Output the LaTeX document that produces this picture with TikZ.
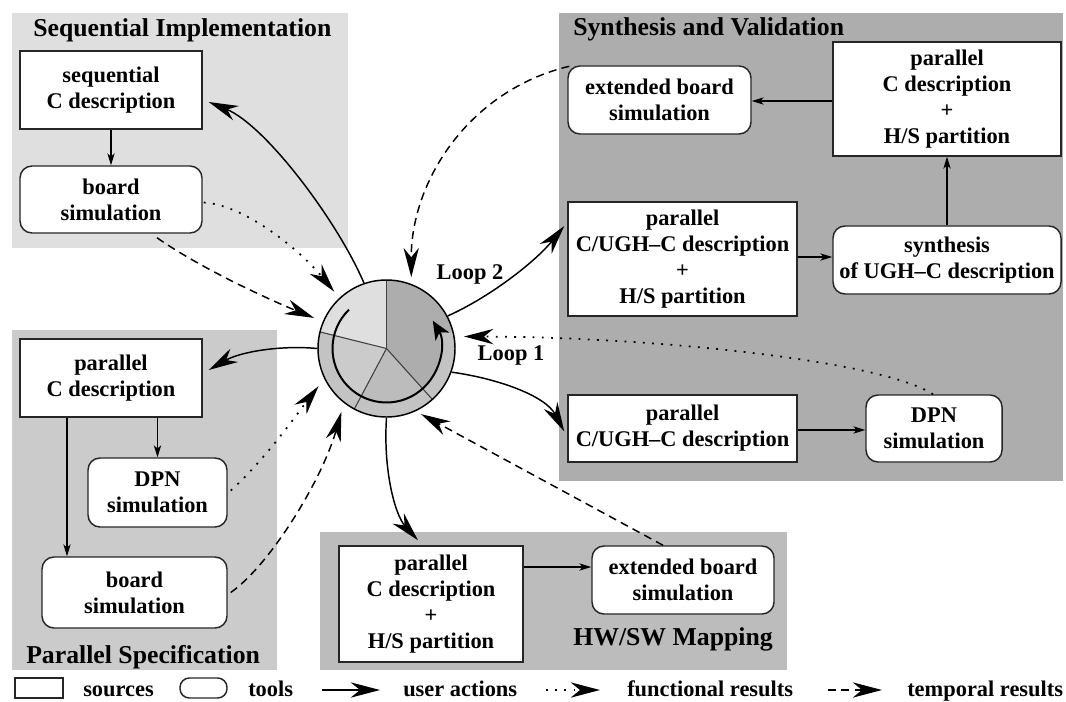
\documentclass[tikz,border=0pt]{standalone}
\usepackage{fontspec}
\setmainfont{Liberation Serif}
\usetikzlibrary{arrows.meta,calc}
\definecolor{cseq}{HTML}{DFDFDF}
\definecolor{cpar}{HTML}{CBCBCB}
\definecolor{chw}{HTML}{BCBCBC}
\definecolor{csyn}{HTML}{ADADAD}
\definecolor{cband}{HTML}{C3C3C3}
\begin{document}
\begin{tikzpicture}[x=0.75pt,y=-0.75pt,
  font=\fontsize{16.8}{19.5}\selectfont\bfseries,
  panel/.style={draw=none, inner sep=0pt},
  src/.style={draw=black!85, line width=1.1pt, fill=white, align=center, inner sep=0pt},
  tool/.style={src, rounded corners=9pt},
  ttl/.style={font=\fontsize{19.3}{22}\selectfont\bfseries, inner sep=0pt, anchor=base west},
  lgd/.style={inner sep=0pt, anchor=base west},
  bigtip/.style={-{Stealth[length=22pt,width=11.5pt,inset=7pt]}},
  ua/.style={line width=1.1pt, bigtip},
  fr/.style={line width=1.3pt, bigtip, dash pattern=on 1.4pt off 5.5pt},
  tr/.style={line width=1.1pt, bigtip, dash pattern=on 6pt off 4pt},
  inarrow/.style={line width=0.8pt, -{Stealth[length=9pt,width=5.5pt,inset=2.5pt]}}
]
\useasboundingbox (0,0) rectangle (1066,702);
% panels
\node[panel, fill=cseq, minimum width=252pt, minimum height=176.25pt] (pseq) at (180,130.5) {};
\node[panel, fill=cpar, minimum width=198.75pt, minimum height=255pt] (ppar) at (144.5,500) {};
\node[panel, fill=chw, minimum width=350.25pt, minimum height=103.5pt] (phw) at (553.5,601) {};
\node[panel, fill=csyn, minimum width=378pt, minimum height=351pt] (psyn) at (811,247) {};
\node[ttl] (tseq) at (33,37) {Sequential Implementation};
\node[ttl] (tsyn) at (573,36) {Synthesis and Validation};
\node[ttl] (thw) at (573,645) {HW/SW Mapping};
\node[ttl] (tpar) at (26,663) {Parallel Specification};
% boxes
\node[src, minimum width=136.5pt, minimum height=58.5pt] (seqC) at (111,90) {sequential\\C description};
\node[tool, minimum width=136.5pt, minimum height=50.25pt] (seqB) at (111,199.5) {board\\simulation};
\node[src, minimum width=136.5pt, minimum height=58.5pt] (parC) at (111,378) {parallel\\C description};
\node[tool, minimum width=104.25pt, minimum height=51.75pt] (parDPN) at (157.5,492.5) {DPN\\simulation};
\node[tool, minimum width=138.75pt, minimum height=53.25pt] (parB) at (134.5,592.5) {board\\simulation};
\node[src, minimum width=138pt, minimum height=87pt] (hwC) at (431,604) {parallel\\C description\\+\\H/S partition};
\node[tool, minimum width=136.5pt, minimum height=51pt] (hwB) at (683,580) {extended board\\simulation};
\node[tool, minimum width=137.25pt, minimum height=51pt] (synB) at (659.5,100) {extended board\\simulation};
\node[src, minimum width=171pt, minimum height=85.5pt] (synC) at (947,99) {parallel\\C description\\+\\H/S partition};
\node[src, minimum width=171.75pt, minimum height=85.5pt] (synUC) at (682.5,259) {parallel\\C/UGH--C description\\+\\H/S partition};
\node[tool, minimum width=171pt, minimum height=51pt] (synS) at (947,260) {synthesis\\of UGH--C description};
\node[src, minimum width=171.75pt, minimum height=50.25pt] (synUC2) at (682.5,428.5) {parallel\\C/UGH--C description};
\node[tool, minimum width=102pt, minimum height=50.25pt] (synDPN) at (934,428.5) {DPN\\simulation};
% internal arrows
\draw[inarrow] (seqC.south) -- (seqB.north);
\draw[inarrow] (parDPN.north |- parC.south) -- (parDPN.north);
\draw[inarrow] ($(parC.south)+(-44,0)$) -- ($(parB.north)+(-67.5,0)$);
\draw[inarrow] ($(hwC.east)+(0,-37)$) -- ($(hwB.west)+(0,-13)$);
\draw[inarrow] ($(synC.west)+(0,2)$) -- ($(synB.east)+(0,1)$);
\draw[inarrow] ($(synUC.east)+(0,-2)$) -- ($(synS.west)+(0,-3)$);
\draw[inarrow] (synS.north) -- (synC.south);
\draw[inarrow] ($(synUC2.east)+(0,1.5)$) -- ($(synDPN.west)+(0,1.5)$);
% pie
\coordinate (pc) at (386.5,348.5);
\fill[cband] (pc) circle[radius=51.4pt];
\fill[cseq] (pc) -- +(90:51.4pt) arc[start angle=90,end angle=166,radius=51.4pt] -- cycle;
\fill[cpar] (pc) -- +(166:40.5pt) arc[start angle=166,end angle=242,radius=40.5pt] -- cycle;
\fill[chw] (pc) -- +(242:40.5pt) arc[start angle=242,end angle=312,radius=40.5pt] -- cycle;
\fill[csyn] (pc) -- +(312:40.5pt) arc[start angle=312,end angle=450,radius=40.5pt] -- cycle;
\fill[csyn] (pc) -- +(15:51.4pt) arc[start angle=15,end angle=90,radius=51.4pt] -- cycle;
\draw[line width=0.8pt, black!75] (pc) -- +(90:51.4pt);
\draw[line width=0.8pt, black!75] (pc) -- +(166:51.4pt);
\draw[line width=0.8pt, black!75] (pc) -- +(242:51.4pt);
\draw[line width=0.8pt, black!75] (pc) -- +(312:51.4pt);
\draw[line width=1.5pt, -{Stealth[length=14pt,width=12pt,inset=4pt]}] ($(pc)+(134:40.5pt)$) arc[start angle=134,end angle=391,radius=40.5pt];
\node[circle, draw, line width=1.1pt, minimum size=102.75pt, inner sep=0pt] (pie) at (pc) {};
\node[inner sep=0pt] (loop2) at (470,274) {Loop 2};
\node[inner sep=0pt] (loop1) at (511,355) {Loop 1};
% user actions
\draw[ua] (pie.109) .. controls (337,220) and (265,125) .. ($(seqC.east)+(6,12)$);
\draw[ua] (pie.180) .. controls (280,345) and (240,352) .. ($(parC.east)+(6,-8)$);
\draw[ua] (pie.270) .. controls (383,470) and (395,515) .. ($(hwC.north)+(-13,-5)$);
\draw[ua] (pie.28) .. controls (490,297) and (535,262) .. ($(synUC.west)+(-3,-33)$);
\draw[ua] (pie.340) .. controls (495,378) and (545,395) .. ($(synUC2.west)+(-3,3)$);
% temporal results
\draw[tr, shorten >=7pt] ($(seqB.south)+(46,4)$) .. controls (200,268) and (270,300) .. (pie.157);
\draw[tr, shorten >=7pt] ($(parB.east)+(3,0)$) .. controls (270,565) and (322,480) .. (pie.232);
\draw[tr, shorten >=5pt] ($(synB.north west)+(2,1)$) .. controls (470,90) and (411,180) .. (pie.69);
\draw[tr, shorten >=4.5pt] ($(hwB.north)+(-20,0)$) -- (pie.295);
% functional results
\draw[fr, shorten >=6pt] ($(seqB.east)+(1,3)$) .. controls (245,205) and (300,250) .. (pie.133);
\draw[fr, shorten >=7pt] ($(parDPN.east)+(3,-2)$) .. controls (265,460) and (300,410) .. (pie.206);
\draw[fr, shorten >=7pt] ($(synDPN.north)+(-1,0)$) .. controls (880,360) and (650,337) .. (pie.10);
% legend
\node[draw=black!85, line width=1.1pt, minimum width=36pt, minimum height=15pt, inner sep=0pt] (lsrc) at (39,688) {};
\node[lgd] (lsrct) at (83,696) {sources};
\node[draw=black!85, line width=1.1pt, rounded corners=7pt, minimum width=35.25pt, minimum height=15pt, inner sep=0pt] (ltool) at (203.5,688) {};
\node[lgd] (ltoolt) at (248,696) {tools};
\coordinate (lua1) at (322,690); \coordinate (lua2) at (380,690);
\draw[ua] (lua1) -- (lua2);
\node[lgd] (luat) at (403,696) {user actions};
\coordinate (lfr1) at (546,690); \coordinate (lfr2) at (600,690);
\draw[fr] (lfr1) -- (lfr2);
\node[lgd] (lfrt) at (627,696) {functional results};
\coordinate (ltr1) at (828,690); \coordinate (ltr2) at (882,690);
\draw[tr] (ltr1) -- (ltr2);
\node[lgd] (ltrt) at (907,696) {temporal results};
\end{tikzpicture}
\end{document}
